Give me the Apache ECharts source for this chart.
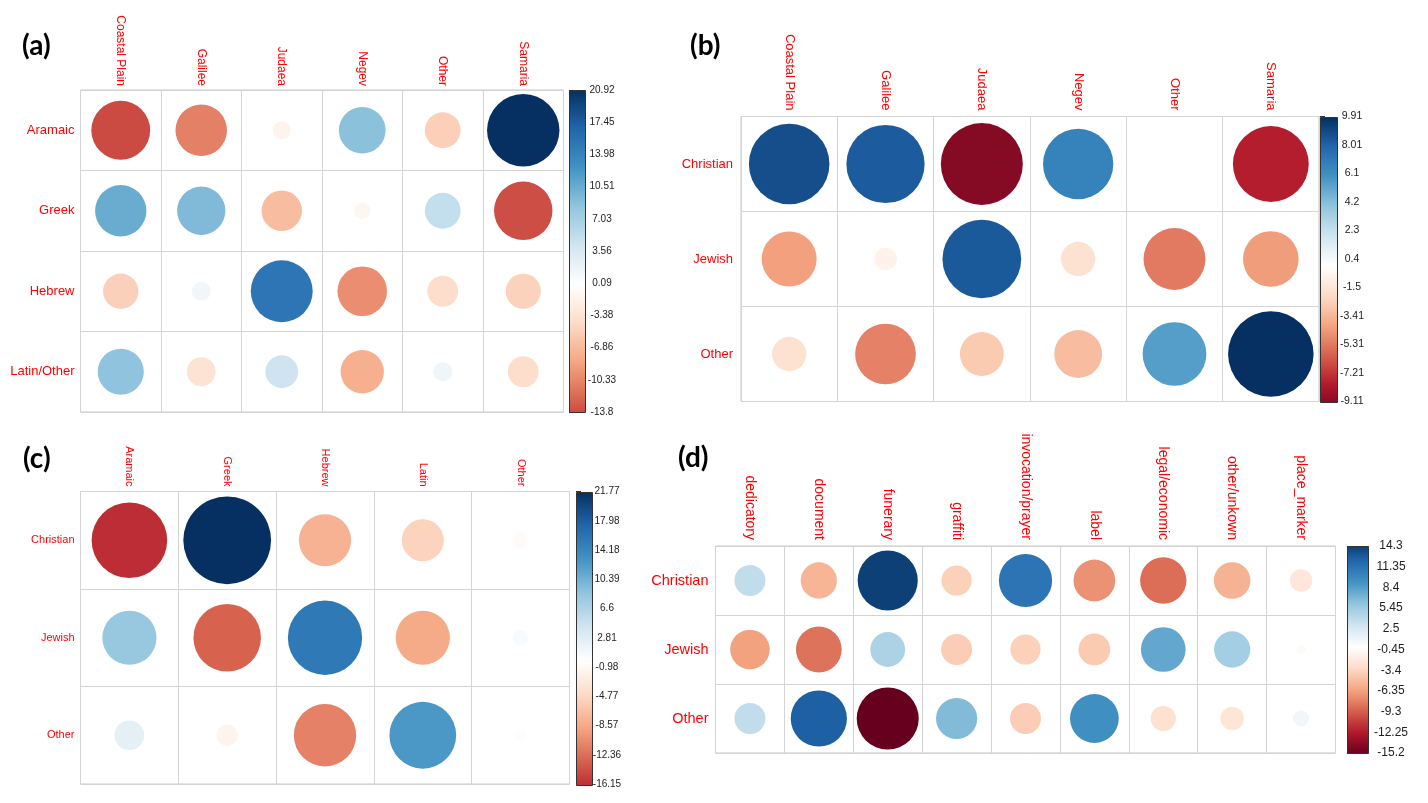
<!DOCTYPE html>
<html>
<head>
<meta charset="utf-8">
<script src="https://cdn.jsdelivr.net/npm/echarts@6/dist/echarts.min.js"></script>
<style>
html,body{margin:0;padding:0;background:#fff;}
#main{width:1428px;height:803px;}
</style>
</head>
<body>
<div id="main"></div>
<script>
// ---------------- DATA ----------------
const colsA = ['Coastal Plain','Galilee','Judaea','Negev','Other','Samaria'];
const rowsA = ['Aramaic','Greek','Hebrew','Latin/Other'];
const valsA = [
  [-13.8, -10.6, -1.3, 8.7, -5.1, 20.92],
  [10.5, 9.3, -6.5, -1.1, 5.1, -13.6],
  [-5.0, 1.4, 15.3, -9.8, -3.8, -4.9],
  [8.5, -3.3, 4.3, -7.5, 1.5, -3.8]
];
const ticksA = ['-13.8','-10.33','-6.86','-3.38','0.09','3.56','7.03','10.51','13.98','17.45','20.92'];

const colsB = ['Coastal Plain','Galilee','Judaea','Negev','Other','Samaria'];
const rowsB = ['Christian','Jewish','Other'];
const valsB = [
  [8.8, 8.3, -9.11, 6.7, 0, -7.8],
  [-4.1, -0.7, 8.4, -1.6, -5.2, -4.2],
  [-1.6, -5.0, -2.6, -3.1, 5.5, 9.91]
];
const ticksB = ['-9.11','-7.21','-5.31','-3.41','-1.5','0.4','2.3','4.2','6.1','8.01','9.91'];

const colsC = ['Aramaic','Greek','Hebrew','Latin','Other'];
const rowsC = ['Christian','Jewish','Other'];
const valsC = [
  [-16.15, 21.77, -7.7, -5.0, -0.6],
  [8.3, -12.9, 15.6, -8.3, 0.7],
  [2.5, -1.3, -11.0, 12.6, -0.35]
];
const ticksC = ['-16.15','-12.36','-8.57','-4.77','-0.98','2.81','6.6','10.39','14.18','17.98','21.77'];

const colsD = ['dedicatory','document','funerary','graffiti','invocation/prayer','label','legal/economic','other/unkown','place_marker'];
const rowsD = ['Christian','Jewish','Other'];
const valsD = [
  [3.8, -5.2, 14.3, -3.6, 11.2, -6.9, -8.5, -5.3, -2.0],
  [-6.2, -8.3, 4.8, -3.8, -3.6, -4.0, 7.9, 5.2, -0.4],
  [3.8, 12.5, -15.2, 6.7, -3.8, 9.4, -2.5, -2.2, 1.0]
];
const ticksD = ['-15.2','-12.25','-9.3','-6.35','-3.4','-0.45','2.5','5.45','8.4','11.35','14.3'];

// ---------------- STYLE / LAYOUT ----------------
const RDBU = ["#67001F","#B2182B","#D6604D","#F4A582","#FDDBC7","#FFFFFF","#D1E5F0","#92C5DE","#4393C3","#2166AC","#053061"];
const FONT = "'Liberation Sans', Arial, sans-serif";

const panels = [
  {title:'(a)', tl:[22,32], cols:colsA, rows:rowsA, vals:valsA, ticks:ticksA,
   grid:{left:80.5, top:90, width:483, height:322}, cb:{left:569, width:16}, cbMargin:17, cbFont:10,
   rowFont:13, colFont:12, xMargin:4, yMargin:6},
  {title:'(b)', tl:[690,32], cols:colsB, rows:rowsB, vals:valsB, ticks:ticksB,
   grid:{left:741, top:116.5, width:578, height:285}, cb:{left:1320, width:17}, cbMargin:15, cbFont:10.5,
   rowFont:13, colFont:13, xMargin:6, yMargin:8},
  {title:'(c)', tl:[23,445], cols:colsC, rows:rowsC, vals:valsC, ticks:ticksC,
   grid:{left:80.5, top:491.5, width:489, height:292.5}, cb:{left:576, width:16}, cbMargin:15, cbFont:10,
   rowFont:11, colFont:11, xMargin:5, yMargin:6},
  {title:'(d)', tl:[678,444], cols:colsD, rows:rowsD, vals:valsD, ticks:ticksD,
   grid:{left:715.5, top:546, width:620, height:207}, cb:{left:1347, width:21}, cbMargin:23, cbFont:12,
   rowFont:14.5, colFont:14, xMargin:6, yMargin:7}
];

function hex2rgb(h){return [parseInt(h.slice(1,3),16),parseInt(h.slice(3,5),16),parseInt(h.slice(5,7),16)];}
function colorAt(t){ // t in [-1,1]
  t = Math.max(-1, Math.min(1, t));
  const pos = (t + 1) / 2 * (RDBU.length - 1);
  const i = Math.min(Math.floor(pos), RDBU.length - 2);
  const f = pos - i;
  const a = hex2rgb(RDBU[i]), b = hex2rgb(RDBU[i+1]);
  const c = a.map((v,k)=>Math.round(v + (b[k]-v)*f));
  return 'rgb(' + c.join(',') + ')';
}

const grids = [], xAxes = [], yAxes = [], series = [], visualMaps = [], graphics = [];

panels.forEach((p, pi) => {
  const flat = [];
  p.vals.forEach((row, ri) => row.forEach((v, ci) => flat.push([ci, ri, v])));
  const M = Math.max(...flat.map(d => Math.abs(d[2])));
  const lo = Math.min(...flat.map(d => d[2]));
  const hi = Math.max(...flat.map(d => d[2]));

  // circle grid
  const gi = grids.length;
  grids.push(Object.assign({show:true, borderColor:'#c8c8c8', borderWidth:1, backgroundColor:'transparent'}, p.grid));
  xAxes.push({type:'category', gridIndex:gi, position:'top', data:p.cols,
    axisLine:{show:false}, axisTick:{show:false},
    axisLabel:{interval:0, rotate:90, color:'#ff0000', fontSize:p.colFont, fontFamily:FONT, margin:p.xMargin},
    splitLine:{show:true, interval:0, lineStyle:{color:'#d4d4d4', width:1}}});
  yAxes.push({type:'category', gridIndex:gi, inverse:true, data:p.rows,
    axisLine:{show:false}, axisTick:{show:false},
    axisLabel:{interval:0, color:'#ff0000', fontSize:p.rowFont, fontFamily:FONT, margin:p.yMargin},
    splitLine:{show:true, interval:0, lineStyle:{color:'#d4d4d4', width:1}}});
  const si = series.length;
  series.push({type:'custom', xAxisIndex:gi, yAxisIndex:gi, data:flat, encode:{x:0, y:1},
    renderItem:(params, api) => {
      const v = api.value(2);
      const c = api.coord([api.value(0), api.value(1)]);
      const s = api.size([1, 1]);
      const cell = Math.min(s[0], s[1]);
      const r = 0.45 * cell * Math.sqrt(Math.abs(v) / M);
      return {type:'circle', shape:{cx:c[0], cy:c[1], r:r}, style:{fill:api.visual('color')}};
    }});
  visualMaps.push({type:'continuous', show:false, seriesIndex:si, dimension:2, min:-M, max:M,
    inRange:{color:RDBU}});

  // colorbar grid
  const ci = grids.length;
  const nT = p.ticks.length;
  grids.push({left:p.cb.left, width:p.cb.width, top:p.grid.top, height:p.grid.height});
  xAxes.push({type:'value', gridIndex:ci, min:0, max:1, show:false});
  yAxes.push({type:'value', gridIndex:ci, position:'right', min:0, max:nT-1, interval:1,
    axisLine:{show:false}, splitLine:{show:false},
    axisTick:{show:true, length:5, lineStyle:{color:'#333'}},
    axisLabel:{color:'#222', fontSize:p.cbFont, fontFamily:FONT, align:'center', margin:p.cbMargin,
      formatter:(v) => p.ticks[Math.round(v)]}});
  const stops = [];
  const NS = 60;
  for (let k = 0; k <= NS; k++) {
    const v = lo + (hi - lo) * k / NS;
    stops.push({offset:k/NS, color:colorAt(v / M)});
  }
  series.push({type:'custom', xAxisIndex:ci, yAxisIndex:ci, data:[[0, 0]], silent:true,
    renderItem:(params, api) => {
      const a = api.coord([0, 0]);
      const b = api.coord([1, nT-1]);
      return {type:'rect',
        shape:{x:Math.round(a[0])+0.5, y:Math.round(b[1])+0.5, width:Math.round(b[0]-a[0]), height:Math.round(a[1]-b[1])},
        style:{fill:new echarts.graphic.LinearGradient(0, 1, 0, 0, stops), stroke:'#333', lineWidth:1}};
    }});

  graphics.push({type:'text', left:p.tl[0], top:p.tl[1],
    style:{text:p.title, font:"bold 28px Lato, 'Open Sans', sans-serif", fill:'#000'}});
});

const chart = echarts.init(document.getElementById('main'), null, {renderer:'canvas'});
chart.setOption({
  backgroundColor:'#ffffff',
  animation:false,
  grid:grids, xAxis:xAxes, yAxis:yAxes, series:series, visualMap:visualMaps, graphic:graphics
});
</script>
</body>
</html>
